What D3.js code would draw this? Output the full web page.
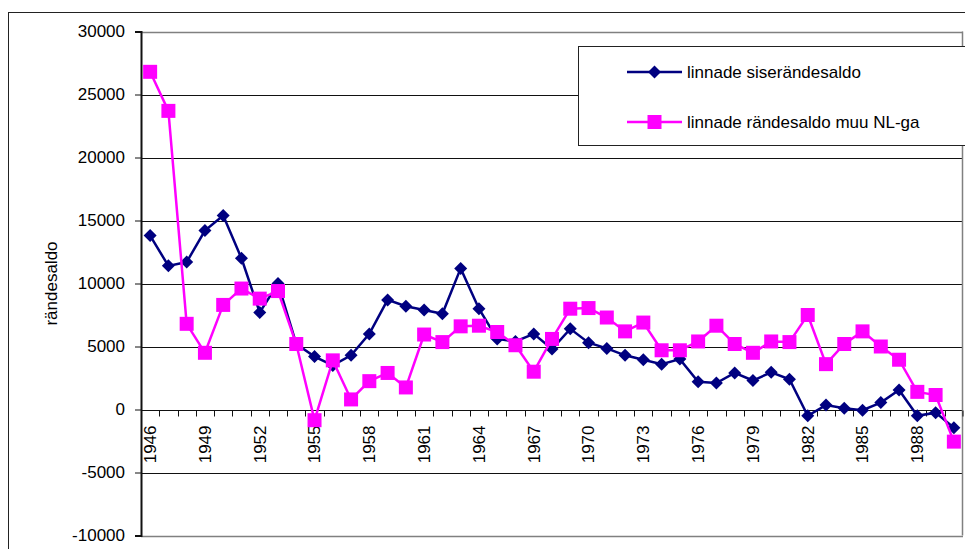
<!DOCTYPE html>
<html>
<head>
<meta charset="utf-8">
<script src="https://cdn.jsdelivr.net/npm/d3@7"></script>
<style>
  body { margin: 0; background: #fff; }
  svg { display: block; font-family: "Liberation Sans", Arial, sans-serif; }
</style>
</head>
<body>
<svg width="965" height="549"></svg>
<script>
// categories: one per year
const years = [1946, 1947, 1948, 1949, 1950, 1951, 1952, 1953, 1954, 1955,
               1956, 1957, 1958, 1959, 1960, 1961, 1962, 1963, 1964, 1965,
               1966, 1967, 1968, 1969, 1970, 1971, 1972, 1973, 1974, 1975,
               1976, 1977, 1978, 1979, 1980, 1981, 1982, 1983, 1984, 1985,
               1986, 1987, 1988, 1989, 1990];
const yearLabels = [1946, 1949, 1952, 1955, 1958, 1961, 1964, 1967, 1970, 1973, 1976, 1979, 1982, 1985, 1988];
const yTicks = [-10000, -5000, 0, 5000, 10000, 15000, 20000, 25000, 30000];

// linnade siserändesaldo (navy diamonds)
const siseSaldo = [13800, 11400, 11700, 14200, 15400, 12000, 7700, 10000, 5200, 4200,
                   3500, 4300, 6000, 8700, 8200, 7900, 7600, 11200, 8000, 5600,
                   5400, 6000, 4800, 6400, 5300, 4850, 4300, 3950, 3600, 4000,
                   2200, 2100, 2900, 2300, 2950, 2400, -500, 350, 100, -50,
                   550, 1550, -500, -250, -1450];
// linnade rändesaldo muu NL-ga (magenta squares)
const muuSaldo = [26800, 23700, 6800, 4500, 8300, 9600, 8800, 9400, 5200, -850,
                  3900, 800, 2250, 2900, 1750, 5950, 5350, 6600, 6650, 6150,
                  5100, 3000, 5600, 8000, 8050, 7300, 6200, 6900, 4700, 4700,
                  5400, 6650, 5200, 4500, 5400, 5350, 7500, 3600, 5200, 6200,
                  5000, 3950, 1400, 1150, -2550];

const seriesNames = ['linnade siserändesaldo', 'linnade rändesaldo muu NL-ga'];
const seriesColors = ['#000080', '#ff00ff'];

const svg = d3.select('svg');

const xScale = d3.scaleBand().domain(years).range([141, 963]); // bands, ticks between categories
const yScale = d3.scaleLinear().domain([-10000, 30000]).range([535.5, 31.5]);
const cx = d => xScale(d) + xScale.bandwidth() / 2;

// outer chart border (cropped by the window)
svg.append('rect')
  .attr('x', 8.5).attr('y', 12.5).attr('width', 1000).attr('height', 600)
  .attr('fill', 'none').attr('stroke', '#222');

// gridlines
svg.append('g')
  .selectAll('line')
  .data(yTicks)
  .enter()
  .append('line')
  .attr('x1', 141).attr('x2', 963)
  .attr('y1', d => Math.round(yScale(d)) + 0.5)
  .attr('y2', d => Math.round(yScale(d)) + 0.5)
  .attr('stroke', d => (d === 30000 || d === -10000) ? '#808080' : '#111')
  .attr('stroke-width', d => (d === 30000 || d === -10000) ? 1.5 : 1);

// right side of plot area
svg.append('line')
  .attr('x1', 962.5).attr('x2', 962.5).attr('y1', yScale(30000)).attr('y2', yScale(-10000))
  .attr('stroke', '#808080').attr('stroke-width', 1.5);

// y axis (plain hyphen for negatives, like the original)
const yAxis = d3.axisLeft(yScale).tickValues(yTicks).tickSize(6).tickPadding(10).tickFormat(d => String(d));
const yG = svg.append('g').attr('transform', 'translate(141,0)').call(yAxis);
yG.select('.domain').attr('stroke', '#111').attr('stroke-width', 2);
yG.selectAll('.tick line').attr('stroke', '#111');
yG.selectAll('.tick text').attr('font-size', 17).attr('fill', '#000');

// y title
svg.append('text')
  .attr('transform', `translate(51,${(yScale(30000) + yScale(-10000)) / 2}) rotate(-90)`)
  .attr('text-anchor', 'middle').attr('dy', '0.35em')
  .attr('font-size', 17)
  .text('rändesaldo');

// x axis crosses at 0: ticks on band edges
const zeroY = Math.round(yScale(0)) + 0.5;
svg.append('g')
  .selectAll('line')
  .data(years.concat(['end']))
  .enter()
  .append('line')
  .attr('x1', d => d === 'end' ? 963 : Math.round(xScale(d)) + 0.5)
  .attr('x2', d => d === 'end' ? 963 : Math.round(xScale(d)) + 0.5)
  .attr('y1', zeroY).attr('y2', zeroY + 6)
  .attr('stroke', '#111');

svg.append('g')
  .selectAll('text')
  .data(yearLabels)
  .enter()
  .append('text')
  .attr('transform', d => `translate(${cx(d)},${zeroY + 15}) rotate(-90)`)
  .attr('text-anchor', 'end').attr('dy', '0.35em')
  .attr('font-size', 17)
  .text(d => d);

// lines + markers
const line = d3.line().x((d, i) => cx(years[i])).y(d => yScale(d));
const allSeries = [siseSaldo, muuSaldo];

allSeries.forEach((values, s) => {
  svg.append('path')
    .datum(values)
    .attr('d', line)
    .attr('fill', 'none')
    .attr('stroke', seriesColors[s])
    .attr('stroke-width', 2.5);

  const marks = svg.append('g')
    .selectAll('path')
    .data(values)
    .enter()
    .append('path')
    .attr('transform', (d, i) => `translate(${cx(years[i])},${yScale(d)})`)
    .attr('fill', seriesColors[s]);
  if (s === 0) marks.attr('d', 'M0,-6.5L6.5,0L0,6.5L-6.5,0Z');
  else marks.attr('d', 'M-7,-7H7V7H-7Z');
});

// legend
const legend = svg.append('g');
legend.append('rect')
  .attr('x', 578.5).attr('y', 46.5).attr('width', 420).attr('height', 99)
  .attr('fill', '#fff').attr('stroke', '#222');

const legendRows = legend.selectAll('g')
  .data(seriesNames)
  .enter()
  .append('g')
  .attr('transform', (d, i) => `translate(0,${72 + i * 50})`);
legendRows.append('line')
  .attr('x1', 627).attr('x2', 682).attr('y1', 0).attr('y2', 0)
  .attr('stroke', (d, i) => seriesColors[i]).attr('stroke-width', 2.5);
legendRows.append('path')
  .attr('transform', 'translate(654.5,0)')
  .attr('d', (d, i) => i === 0 ? 'M0,-6.5L6.5,0L0,6.5L-6.5,0Z' : 'M-7,-7H7V7H-7Z')
  .attr('fill', (d, i) => seriesColors[i]);
legendRows.append('text')
  .attr('x', 687).attr('dy', '0.35em')
  .attr('font-size', 17)
  .text(d => d);
</script>
</body>
</html>
